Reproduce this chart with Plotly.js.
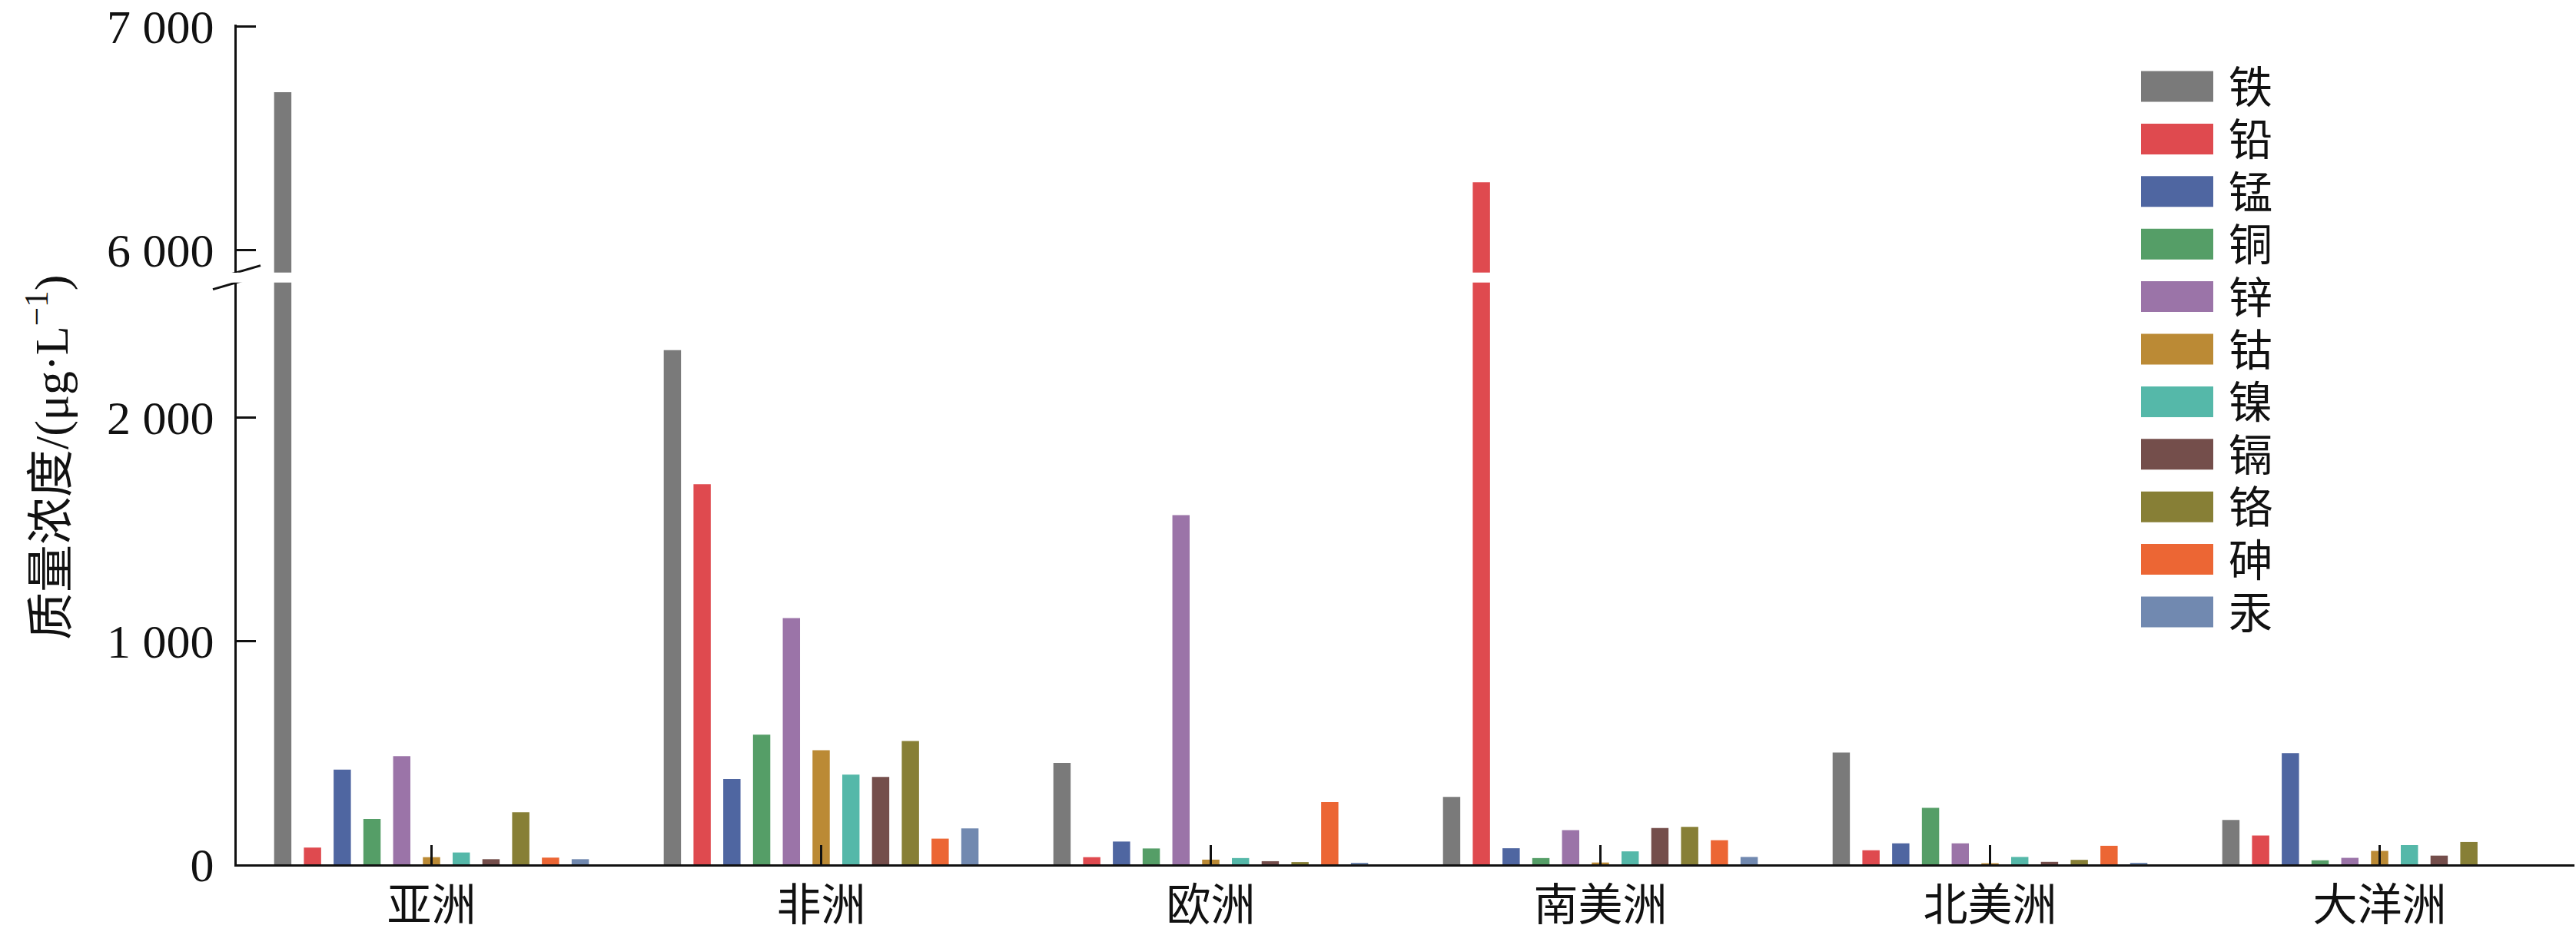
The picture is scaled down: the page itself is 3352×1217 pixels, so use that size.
<!DOCTYPE html>
<html>
<head>
<meta charset="utf-8">
<script src="https://cdn.plot.ly/plotly-3.0.1.min.js"></script>
<style>html,body{margin:0;padding:0;background:#fff;}#chart{width:3352px;height:1217px;}</style>
</head>
<body>
<div id="chart"></div>
<script>
// ---- data ----
const continents = ['亚洲', '非洲', '欧洲', '南美洲', '北美洲', '大洋洲'];
const metals = ['铁', '铅', '锰', '铜', '锌', '钴', '镍', '镉', '铬', '砷', '汞'];
const iron      = [6705, 2303, 454, 302, 501, 199];
const lead      = [75, 1702, 32, 6303, 63, 129];
const manganese = [424, 382, 102, 72, 94, 498];
const copper    = [203, 581, 71, 28, 253, 18];
const zinc      = [484, 1103, 1564, 153, 94, 29];
const cobalt    = [32, 511, 21, 8, 5, 60];
const nickel    = [53, 402, 28, 58, 33, 86];
const cadmium   = [23, 391, 14, 163, 11, 39];
const chromium  = [233, 552, 10, 168, 20, 100];
const arsenic   = [30, 115, 279, 108, 83, 0];
const mercury   = [23, 161, 7, 33, 7, 0];
const lowerTicks = [0, 1000, 2000];
const lowerTickText = ['0', '1 000', '2 000'];
const upperTicks = [6000, 7000];
const upperTickText = ['6 000', '7 000'];

const seriesValues = [iron, lead, manganese, copper, zinc, cobalt, nickel, cadmium, chromium, arsenic, mercury];
const colors = ['#7a7a7a', '#df4a4f', '#4f66a1', '#559e67', '#9b74a8', '#bb8a35',
                '#55b8a9', '#744e4b', '#877f36', '#ec6634', '#7189b0'];

// ---- layout geometry ----
const W = 3352, H = 1217;
const mL = 308, mR = 2, mT = 32, mB = 92;
const plotW = W - mL - mR, plotH = H - mT - mB;
const lowerMax = 2606, upperMin = 5900, upperMax = 7007;
const lowerDomTop = 0.6929, upperDomBot = 0.7048;

const serif = 'Liberation Serif, "Times New Roman", "Noto Sans CJK SC", serif';
const cjk = '"Noto Sans CJK SC", "Liberation Serif", serif';

const traces = [];
metals.forEach((m, i) => {
  traces.push({
    type: 'bar', name: m, x: continents, y: seriesValues[i],
    xaxis: 'x', yaxis: 'y', marker: {color: colors[i], line: {width: 0}},
    showlegend: false, hoverinfo: 'name+y'
  });
});
metals.forEach((m, i) => {
  traces.push({
    type: 'bar', name: m, x: continents, y: seriesValues[i],
    xaxis: 'x', yaxis: 'y2', marker: {color: colors[i], line: {width: 0}},
    showlegend: false, hoverinfo: 'name+y'
  });
});

const shapes = [];
const annotations = [];

// legend (large swatches as in reference)
const legSwX0 = 2786, legSwX1 = 2880, legRow0 = 112.5, legStep = 68.4, legSwH = 40, legTextX = 2898;
const px2x = p => (p - mL) / plotW;
const px2y = p => (H - mB - p) / plotH;
metals.forEach((m, i) => {
  const yc = legRow0 + i * legStep;
  shapes.push({type: 'rect', xref: 'paper', yref: 'paper',
    x0: px2x(legSwX0), x1: px2x(legSwX1), y0: px2y(yc + legSwH / 2), y1: px2y(yc - legSwH / 2),
    fillcolor: colors[i], line: {width: 0}, layer: 'above'});
  annotations.push({xref: 'paper', yref: 'paper', x: px2x(legTextX), y: px2y(yc + 2),
    xanchor: 'left', yanchor: 'middle', text: m, showarrow: false,
    font: {family: serif, size: 57, color: '#111'}});
});

// axis break marks
[['y2', upperMin], ['y', lowerMax]].forEach(([ref, v]) => {
  shapes.push({type: 'line', xref: 'paper', yref: ref,
    xsizemode: 'pixel', xanchor: 0, x0: -31, x1: 31,
    ysizemode: 'pixel', yanchor: v, y0: -9, y1: 9,
    line: {color: '#111', width: 3}, layer: 'above'});
});

// y-axis title
annotations.push({xref: 'paper', yref: 'paper', x: px2x(62), y: px2y(596),
  xanchor: 'center', yanchor: 'middle', textangle: -90, showarrow: false,
  text: '质量浓度/(μg·L<sup>−1</sup>)', font: {family: serif, size: 62, color: '#111'}});

const yCommon = {
  showline: true, linecolor: '#111', linewidth: 3, ticks: 'inside', ticklen: 25, tickwidth: 3,
  tickcolor: '#111', showgrid: false, zeroline: false, tickmode: 'array',
  tickfont: {family: serif, size: 62, color: '#111'}, ticklabelstandoff: 14,
  ticklabeloverflow: 'allow', fixedrange: true
};

const layout = {
  width: W, height: H,
  margin: {l: mL, r: mR, t: mT, b: mB, pad: 0},
  paper_bgcolor: '#fff', plot_bgcolor: '#fff',
  barmode: 'group', bargap: 0.16, bargroupgap: 0.42,
  showlegend: false,
  xaxis: {
    type: 'category', range: [-0.5, 5.5], anchor: 'y',
    showline: true, linecolor: '#111', linewidth: 3,
    ticks: 'inside', ticklen: 25, tickwidth: 3, tickcolor: '#111',
    showgrid: false, zeroline: false, ticklabeloverflow: 'allow',
    tickfont: {family: cjk, size: 58, color: '#111'}, ticklabelstandoff: 0
  },
  yaxis: Object.assign({}, yCommon, {domain: [0, lowerDomTop], range: [0, lowerMax],
    tickvals: lowerTicks, ticktext: lowerTickText, anchor: 'x'}),
  yaxis2: Object.assign({}, yCommon, {domain: [upperDomBot, 1], range: [upperMin, upperMax],
    tickvals: upperTicks, ticktext: upperTickText, anchor: 'x'}),
  shapes: shapes,
  annotations: annotations
};

Plotly.newPlot('chart', traces, layout, {displayModeBar: false, staticPlot: true});
</script>
</body>
</html>
